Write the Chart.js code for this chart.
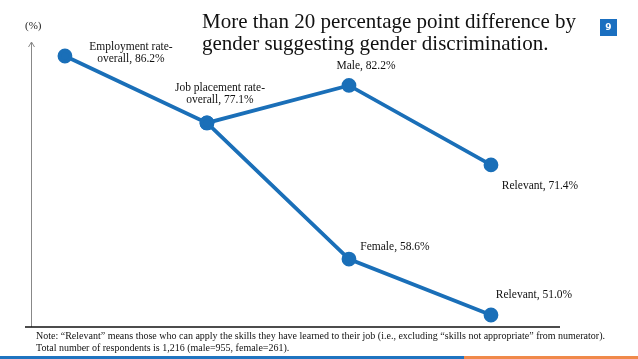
<!DOCTYPE html>
<html>
<head>
<meta charset="utf-8">
<script src="https://cdn.jsdelivr.net/npm/chart.js@4"></script>
<style>
    html, body { margin: 0; padding: 0; background: #fff; }
    #wrap { position: relative; width: 638px; height: 359px; overflow: hidden; }
    #chart { position: absolute; left: 0; top: 0; }
    .title { position: absolute; left: 202px; top: 10px; font-family: "Liberation Serif", serif; font-size: 21px; line-height: 22px; color: #111; white-space: nowrap; }
    .page { position: absolute; left: 600px; top: 19px; width: 17px; height: 17px; background: #1a6fc0; color: #fff; font: bold 9px "DejaVu Sans", sans-serif; text-align: center; line-height: 17px; }
    .unit { position: absolute; left: 25px; top: 19px; font: 11px "Liberation Serif", serif; color: #222; }
    .note { position: absolute; left: 36px; top: 330px; font: 10px "Liberation Serif", serif; line-height: 12px; color: #111; white-space: nowrap; }
    .bar-blue { position: absolute; left: 0; top: 356px; width: 464px; height: 3px; background: #1f74c0; }
    .bar-orange { position: absolute; left: 464px; top: 356px; width: 174px; height: 3px; background: #f0894a; }
</style>
</head>
<body>
<div id="wrap">
    <canvas id="chart" width="638" height="359"></canvas>
    <div class="title">More than 20 percentage point difference by<br>gender suggesting gender discrimination.</div>
    <div class="page">9</div>
    <div class="unit">(%)</div>
    <div class="note">Note: “Relevant” means those who can apply the skills they have learned to their job (i.e., excluding “skills not appropriate” from numerator).<br>Total number of respondents is 1,216 (male=955, female=261).</div>
    <div class="bar-blue"></div>
    <div class="bar-orange"></div>
</div>
<script>
    // stages along the x axis
    const stages = ['Employment rate', 'Job placement rate', 'By gender', 'Relevant'];
    const maleValues = [86.2, 77.1, 82.2, 71.4];
    const femaleValues = [null, 77.1, 58.6, 51.0];
    const maleNames = ['Employment rate-\noverall', 'Job placement rate-\noverall', 'Male', 'Relevant'];
    const femaleNames = [null, null, 'Female', 'Relevant'];

    const lineColor = '#1a6fb8';

    // label offsets from the point (centre of first line)
    const labelOffsets = [
        [[66, -9], [13, -35], [17, -19], [49, 21]],
        [null, null, [46, -12], [43, -20]]
    ];
    const labelNames = [maleNames, femaleNames];

    function toPoints(values) {
        return values.map(function (v, i) {
            return { x: i, y: v };
        }).filter(function (p) { return p.y !== null; });
    }

    const decorPlugin = {
        id: 'decor',
        afterDatasetsDraw: function (chart) {
            const ctx = chart.ctx;
            const area = chart.chartArea;
            ctx.save();
            // y axis with arrow
            ctx.strokeStyle = '#888';
            ctx.lineWidth = 1;
            ctx.beginPath();
            ctx.moveTo(area.left + 0.5, area.top);
            ctx.lineTo(area.left + 0.5, area.bottom);
            ctx.stroke();
            ctx.beginPath();
            ctx.moveTo(area.left - 2.5, area.top + 5);
            ctx.lineTo(area.left + 0.5, area.top);
            ctx.lineTo(area.left + 3.5, area.top + 5);
            ctx.stroke();
            // x axis
            ctx.strokeStyle = '#111';
            ctx.lineWidth = 1.5;
            ctx.beginPath();
            ctx.moveTo(area.left - 6, area.bottom);
            ctx.lineTo(area.right, area.bottom);
            ctx.stroke();

            // point labels
            ctx.fillStyle = '#111';
            ctx.font = '11.5px "Liberation Serif", serif';
            ctx.textAlign = 'center';
            ctx.textBaseline = 'middle';
            chart.data.datasets.forEach(function (ds, di) {
                const meta = chart.getDatasetMeta(di);
                meta.data.forEach(function (el, j) {
                    const idx = ds.data[j].x;
                    const name = labelNames[di][idx];
                    const off = labelOffsets[di][idx];
                    if (!name || !off) {
                        return;
                    }
                    const text = name + ', ' + ds.data[j].y.toFixed(1) + '%';
                    text.split('\n').forEach(function (line, k) {
                        ctx.fillText(line, el.x + off[0], el.y + off[1] + k * 12);
                    });
                });
            });
            ctx.restore();
        }
    };

    new Chart(document.getElementById('chart'), {
        type: 'line',
        data: {
            datasets: [
                {
                    label: 'Male',
                    data: toPoints(maleValues),
                    borderColor: lineColor,
                    backgroundColor: lineColor,
                    borderWidth: 3.8,
                    pointRadius: 5.5,
                    pointHoverRadius: 5.5,
                    tension: 0
                },
                {
                    label: 'Female',
                    data: toPoints(femaleValues),
                    borderColor: lineColor,
                    backgroundColor: lineColor,
                    borderWidth: 3.8,
                    pointRadius: 5.5,
                    pointHoverRadius: 5.5,
                    tension: 0
                }
            ]
        },
        options: {
            responsive: false,
            animation: false,
            clip: false,
            layout: { padding: { left: 31, top: 42, right: 78, bottom: 32 } },
            plugins: {
                legend: { display: false },
                tooltip: { enabled: false }
            },
            scales: {
                x: { type: 'linear', display: false, min: -0.239, max: 3.486 },
                y: { type: 'linear', display: false, min: 49.37, max: 88.1 }
            }
        },
        plugins: [decorPlugin]
    });
</script>
</body>
</html>
